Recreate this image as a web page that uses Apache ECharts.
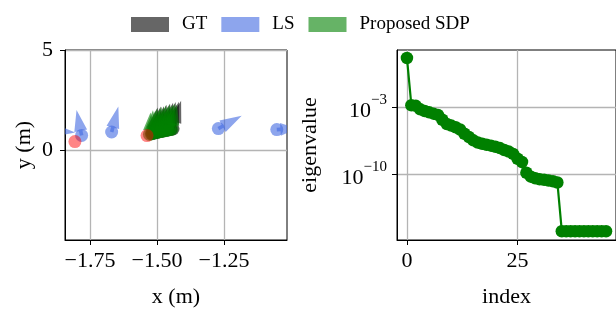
<!DOCTYPE html>
<html>
<head>
<meta charset="utf-8">
<script src="https://cdn.jsdelivr.net/npm/echarts@6/dist/echarts.min.js"></script>
<style>
  html, body { margin: 0; padding: 0; background: #fff; }
  #main { width: 616px; height: 313px; }
</style>
</head>
<body>
<div id="main"></div>
<script>
// poses: [x, y, dx, dy]  (position of the robot + heading vector, metres)
var gtPoses = [
    [-1.518, 0.82, 0.020, 1.30],
    [-1.508, 0.86, 0.022, 1.32],
    [-1.498, 0.89, 0.024, 1.30],
    [-1.488, 0.92, 0.024, 1.34],
    [-1.478, 0.95, 0.026, 1.36],
    [-1.468, 0.98, 0.028, 1.38],
    [-1.458, 1.00, 0.028, 1.40],
    [-1.448, 1.03, 0.030, 1.38],
    [-1.440, 1.06, 0.030, 1.40]
];
var lsPoses = [
    [-1.900, 1.00, 0.095, -0.12],
    [-1.781, 0.73, -0.019, 1.27],
    [-1.669, 0.90, 0.025, 1.27],
    [-1.271, 1.07, 0.087, 0.64],
    [-1.053, 1.02, 0.075, 0.06]
];
var sdpPoses = [
    [-1.528, 0.78, 0.004, 1.10],
    [-1.521, 0.81, 0.006, 1.18],
    [-1.514, 0.84, 0.008, 1.14],
    [-1.507, 0.86, 0.008, 1.22],
    [-1.500, 0.88, 0.010, 1.18],
    [-1.493, 0.90, 0.010, 1.26],
    [-1.486, 0.92, 0.012, 1.22],
    [-1.479, 0.94, 0.012, 1.30],
    [-1.472, 0.96, 0.014, 1.24],
    [-1.465, 0.98, 0.014, 1.32],
    [-1.458, 1.00, 0.016, 1.26],
    [-1.451, 1.02, 0.016, 1.30],
    [-1.444, 1.04, 0.018, 1.24]
];
var redPoints = [
    [-1.806, 0.42],
    [-1.537, 0.72]
];

var eigIndex = [];
for (var i = 0; i < 46; i++) eigIndex.push(i);
var eigExp = [
    2.17, -2.77, -2.83, -3.20, -3.37, -3.51, -3.65, -3.78, -4.29, -4.73,
    -4.90, -5.07, -5.31, -5.75, -6.09, -6.44, -6.67, -6.80, -6.90, -7.00,
    -7.11, -7.25, -7.45, -7.62, -7.86, -8.37, -8.71, -9.83, -10.24, -10.41,
    -10.51, -10.57, -10.65, -10.72, -10.85, -15.95, -15.95, -15.95, -15.95, -15.95,
    -15.95, -15.95, -15.95, -15.95, -15.95, -15.95
];

var xTicksLeft = [-1.75, -1.5, -1.25];
var yTicksLeft = [0, 5];
var xTicksRight = [0, 25];
var yTicksRight = [-3, -10];

var FONT = 'Liberation Serif';

function poseItem(fill) {
    return function (params, api) {
        var p0 = api.coord([api.value(0), api.value(1)]);
        var p1 = api.coord([api.value(0) + api.value(2), api.value(1) + api.value(3)]);
        var dx = p1[0] - p0[0], dy = p1[1] - p0[1];
        var L = Math.sqrt(dx * dx + dy * dy) || 1;
        var ux = dx / L, uy = dy / L, nx = -uy, ny = ux;
        var hl = Math.min(22, L * 0.82), hw = 6.5, sw = 1.8;
        var hb = [p1[0] - ux * hl, p1[1] - uy * hl];
        var pts = [
            [p0[0] + nx * sw, p0[1] + ny * sw],
            [hb[0] + nx * sw, hb[1] + ny * sw],
            [hb[0] + nx * hw, hb[1] + ny * hw],
            p1,
            [hb[0] - nx * hw, hb[1] - ny * hw],
            [hb[0] - nx * sw, hb[1] - ny * sw],
            [p0[0] - nx * sw, p0[1] - ny * sw]
        ];
        return {
            type: 'group',
            children: [
                {type: 'circle', shape: {cx: p0[0], cy: p0[1], r: 6.5}, style: {fill: fill}},
                {type: 'polygon', shape: {points: pts}, style: {fill: fill}}
            ]
        };
    };
}

var axisLineStyle = {show: true, onZero: false, lineStyle: {color: '#000', width: 1}};
var tickStyle = {show: true, inside: false, length: 5, lineStyle: {color: '#000', width: 1}};
var gridLine = {show: true, lineStyle: {color: '#b4b4b4', width: 1.3}};
var labelFont = {fontFamily: FONT, fontSize: 22, color: '#000'};
var nameFont = {fontFamily: FONT, fontSize: 22, color: '#000'};

var chart = echarts.init(document.getElementById('main'));
var option = {
    animation: false,
    backgroundColor: '#fff',
    legend: {
        data: ['GT', 'LS', 'Proposed SDP'],
        left: 126,
        top: 10,
        icon: 'rect',
        itemWidth: 38,
        itemHeight: 15,
        itemGap: 14,
        textStyle: {fontFamily: FONT, fontSize: 19, color: '#000', padding: [0, 0, 0, 8]}
    },
    grid: [
        {left: 65, top: 50, width: 222, height: 195, show: true, borderColor: '#000', borderWidth: 1},
        {left: 397, top: 50, width: 222, height: 195, show: true, borderColor: '#000', borderWidth: 1}
    ],
    xAxis: [
        {
            type: 'value', gridIndex: 0, min: -1.843, max: -1.015,
            axisLine: axisLineStyle, axisTick: Object.assign({customValues: xTicksLeft}, tickStyle),
            splitLine: gridLine,
            axisLabel: Object.assign({customValues: xTicksLeft, margin: 10, formatter: function (v) {
                return v.toFixed(2).replace('-', '\u2212');
            }}, labelFont),
            name: 'x (m)', nameLocation: 'middle', nameGap: 46, nameTextStyle: nameFont
        },
        {
            type: 'value', gridIndex: 1, min: -2.25, max: 47.25,
            axisLine: axisLineStyle, axisTick: Object.assign({customValues: xTicksRight}, tickStyle),
            splitLine: gridLine,
            axisLabel: Object.assign({customValues: xTicksRight, margin: 10}, labelFont),
            name: 'index', nameLocation: 'middle', nameGap: 46, nameTextStyle: nameFont
        }
    ],
    yAxis: [
        {
            type: 'value', gridIndex: 0, min: -4.5, max: 5,
            axisLine: axisLineStyle, axisTick: Object.assign({customValues: yTicksLeft}, tickStyle),
            splitLine: gridLine,
            axisLabel: Object.assign({customValues: yTicksLeft, margin: 12}, labelFont),
            name: 'y (m)', nameLocation: 'middle', nameGap: 30, nameRotate: 90, nameTextStyle: nameFont
        },
        {
            type: 'value', gridIndex: 1, min: -16.87, max: 3.01,
            axisLine: axisLineStyle, axisTick: Object.assign({customValues: yTicksRight}, tickStyle),
            splitLine: gridLine,
            axisLabel: {
                customValues: yTicksRight, margin: 10,
                formatter: function (v) { return '{b|10}{s|\u2212' + (-v) + '}'; },
                rich: {
                    b: {fontFamily: FONT, fontSize: 22, color: '#000', lineHeight: 30, verticalAlign: 'bottom'},
                    s: {fontFamily: FONT, fontSize: 15, color: '#000', lineHeight: 30, verticalAlign: 'top'}
                }
            },
            name: 'eigenvalue', nameLocation: 'middle', nameGap: 76, nameRotate: 90, nameTextStyle: nameFont
        }
    ],
    series: [
        {
            name: 'red', type: 'scatter', xAxisIndex: 0, yAxisIndex: 0,
            data: redPoints, symbolSize: 13, itemStyle: {color: 'rgba(255,0,0,0.6)'}
        },
        {
            name: 'GT', type: 'custom', xAxisIndex: 0, yAxisIndex: 0, clip: true,
            itemStyle: {color: 'rgba(0,0,0,0.6)'},
            renderItem: poseItem('rgba(0,0,0,0.6)'), data: gtPoses
        },
        {
            name: 'LS', type: 'custom', xAxisIndex: 0, yAxisIndex: 0, clip: true,
            itemStyle: {color: 'rgba(65,105,225,0.6)'},
            renderItem: poseItem('rgba(65,105,225,0.6)'), data: lsPoses
        },
        {
            name: 'Proposed SDP', type: 'custom', xAxisIndex: 0, yAxisIndex: 0, clip: true,
            itemStyle: {color: 'rgba(0,128,0,0.6)'},
            renderItem: poseItem('rgba(0,128,0,0.6)'), data: sdpPoses
        },
        {
            name: 'eig', type: 'line', xAxisIndex: 1, yAxisIndex: 1,
            data: eigIndex.map(function (x, k) { return [x, eigExp[k]]; }),
            symbol: 'circle', symbolSize: 12.5, showAllSymbol: true,
            lineStyle: {color: '#008000', width: 2.2},
            itemStyle: {color: '#008000'}
        }
    ]
};
chart.setOption(option);
</script>
</body>
</html>
